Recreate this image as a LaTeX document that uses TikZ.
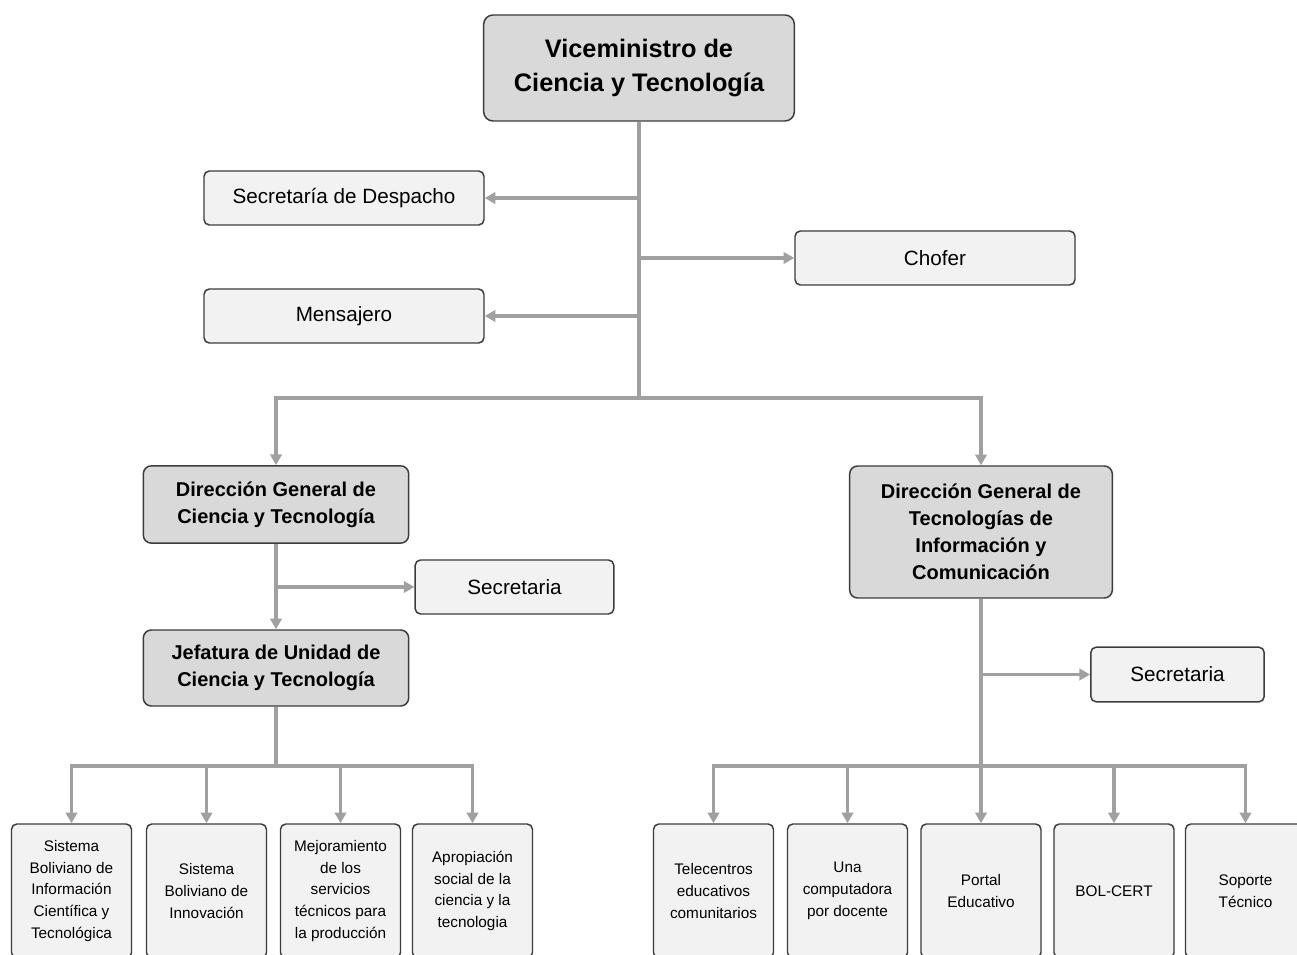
\documentclass[tikz,border=0pt]{standalone}
\usepackage{fontspec}
\setmainfont{Liberation Sans}
\usetikzlibrary{arrows.meta}

\definecolor{boxgray}{RGB}{217,217,217}
\definecolor{boxlight}{RGB}{242,242,242}
\definecolor{linegray}{RGB}{160,160,160}
\definecolor{edgegray}{RGB}{60,60,60}

\tikzset{every picture/.style={line width=0.75pt}}
\tikzset{
  headbox/.style={draw=edgegray, line width=1.1pt, fill=boxgray, rounded corners=6pt, align=center, inner sep=0pt},
  staffbox/.style={draw=edgegray, line width=1.1pt, fill=boxlight, rounded corners=4pt, align=center, inner sep=0pt, font=\fontsize{15.5}{19}\selectfont},
  unitbox/.style={staffbox, minimum width=90pt, minimum height=100.5pt, font=\fontsize{11.5}{16.3}\selectfont},
  conn/.style={draw=linegray, line width=2.4pt},
  arr/.style={conn, -{Triangle[length=8pt,width=8.5pt]}},
}

\begin{document}
\begin{tikzpicture}[x=0.75pt,y=0.75pt,yscale=-1,xscale=1]
\clip (0,0) rectangle (1297,955);
\fill[white] (0,0) rectangle (1297,955);

% Head
\node [headbox, minimum width=233pt, minimum height=79.5pt, rounded corners=7pt, font=\fontsize{19}{25}\selectfont\bfseries] (vice) at (639,68) {Viceministro de\\Ciencia y Tecnología};

% Staff of the head
\node [staffbox, minimum width=210pt, minimum height=40.5pt] (despacho) at (344,198) {Secretaría de Despacho};
\node [staffbox, minimum width=210pt, minimum height=40.5pt] (chofer) at (935,258) {Chofer};
\node [staffbox, minimum width=210pt, minimum height=40.5pt] (mensajero) at (344,316) {Mensajero};

% Directions
\node [headbox, minimum width=199pt, minimum height=58pt, font=\fontsize{15}{20.3}\selectfont\bfseries] (dgcyt) at (276,504.5) {Dirección General de\\Ciencia y Tecnología};
\node [headbox, minimum width=197pt, minimum height=99pt, font=\fontsize{15}{20.3}\selectfont\bfseries] (dgtic) at (981,532) {Dirección General de\\Tecnologías de\\Información y\\Comunicación};
\node [headbox, minimum width=199pt, minimum height=57pt, font=\fontsize{15}{20.3}\selectfont\bfseries] (jefatura) at (276,668) {Jefatura de Unidad de\\Ciencia y Tecnología};

% Secretaries
\node [staffbox, minimum width=149pt, minimum height=40.5pt] (seccyt) at (514.5,587) {Secretaria};
\node [staffbox, minimum width=130pt, minimum height=41pt] (sectic) at (1177.5,674.5) {Secretaria};

% Units, left
\node [unitbox] (sbict) at (71.5,891) {Sistema\\Boliviano de\\Información\\Científica y\\Tecnológica};
\node [unitbox] (sbinn) at (206.5,891) {Sistema\\Boliviano de\\Innovación};
\node [unitbox] (mejora) at (340.5,891) {Mejoramiento\\de los\\servicios\\técnicos para\\la producción};
\node [unitbox] (apropia) at (472.5,891) {Apropiación\\social de la\\ciencia y la\\tecnologia};

% Units, right
\node [unitbox] (tele) at (713.5,891) {Telecentros\\educativos\\comunitarios};
\node [unitbox] (compu) at (847.5,891) {Una\\computadora\\por docente};
\node [unitbox] (portal) at (981,891) {Portal\\Educativo};
\node [unitbox] (bolcert) at (1114,891) {BOL-CERT};
\node [unitbox] (soporte) at (1245.5,891) {Soporte\\Técnico};

% Branch points
\coordinate (split) at (639,398);
\coordinate (lsplit) at (276,766);
\coordinate (rsplit) at (981,766);

% Connectors
\draw [conn] (vice) -- (split);
\draw [arr] (despacho.east -| vice.south) -- (despacho.east);
\draw [arr] (chofer.west -| vice.south) -- (chofer.west);
\draw [arr] (mensajero.east -| vice.south) -- (mensajero.east);
\draw [arr] (split) -| (dgcyt);
\draw [arr] (split) -| (dgtic);

\draw [arr] (dgcyt) -- (jefatura);
\draw [arr] (seccyt.west -| dgcyt.south) -- (seccyt.west);
\draw [conn] (jefatura) -- (lsplit);
\foreach \u in {sbict,sbinn,mejora,apropia}
  \draw [arr] (lsplit) -| (\u);

\draw [arr] (dgtic) -- (portal);
\draw [arr] (sectic.west -| dgtic.south) -- (sectic.west);
\foreach \u in {tele,compu,bolcert,soporte}
  \draw [arr] (rsplit) -| (\u);

\end{tikzpicture}
\end{document}
